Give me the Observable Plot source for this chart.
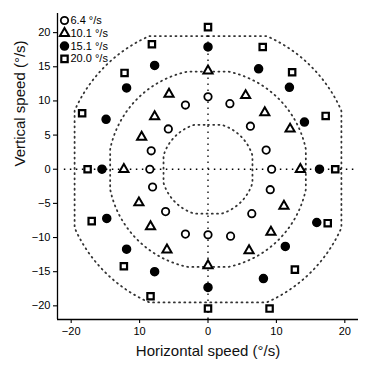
<!DOCTYPE html>
<html><head><meta charset="utf-8">
<script src="https://cdn.jsdelivr.net/npm/d3@7"></script>
<script src="https://cdn.jsdelivr.net/npm/@observablehq/plot@0.6"></script>
<style>
body{margin:0;background:#fff;}
#chart svg{font-family:"Liberation Sans",Arial,Helvetica,sans-serif;}
</style>
</head><body><div id="chart"></div>
<script>
// Legend / series labels
const speedLabels = ["6.4 °/s", "10.1 °/s", "15.1 °/s", "20.0 °/s"];
const speedSymbols = ["circle", "triangle", "circle", "square"];
const speedFills = ["white", "white", "black", "white"];

// 6.4 °/s (open circles)
const c64x = [0, 3.2, 6.2, 8.5, 9.3, 9.1, 6.4, 3.3, 0, -3.3, -6.2, -8.1, -8.5, -8.3, -5.8, -3.3];
const c64y = [10.6, 9.6, 6.3, 2.8, 0, -3.0, -6.5, -9.8, -9.6, -9.5, -6.2, -2.6, 0, 2.7, 5.9, 9.4];
// 10.1 °/s (open triangles)
const t10x = [0, 5.5, 8.3, 12.0, 13.5, 11.1, 9.2, 6.0, 0, -6.0, -8.4, -10.1, -12.3, -9.7, -7.8, -5.7];
const t10y = [14.4, 10.8, 8.3, 5.9, 0, -5.4, -9.2, -11.9, -14.1, -11.8, -8.4, -4.9, 0, 4.7, 7.7, 11.0];
// 15.1 °/s (filled circles)
const f15x = [0, 7.4, 11.9, 14.1, 16.3, 15.9, 11.3, 8.1, 0, -7.8, -11.9, -14.8, -15.5, -14.9, -11.9, -7.8];
const f15y = [17.9, 14.7, 12.0, 6.9, 0, -7.8, -11.3, -16.0, -17.3, -15.0, -11.7, -7.2, 0, 7.3, 11.9, 15.2];
// 20.0 °/s (open squares)
const s20x = [0, 8.0, 12.3, 17.2, 18.6, 17.5, 12.7, 9.0, 0, -8.4, -12.3, -17.0, -17.6, -18.4, -12.2, -8.2];
const s20y = [20.8, 17.9, 14.2, 7.8, 0, -7.9, -14.7, -20.4, -20.4, -18.6, -14.2, -7.6, 0, 8.2, 14.1, 18.3];

// Dotted reference outlines: circle radius clipped to a square half-width
const ringRadius = [6.8, 14.6, 21.3];
const ringClip = [6.5, 14.3, 19.5];

// Axis ticks
const xTicks = [-20, -10, 0, 10, 20];
const xTickLabels = ["−20", "10", "0", "10", "20"];
const yTicks = [-20, -15, -10, -5, 0, 5, 10, 15, 20];
const yTickLabels = ["−20", "−15", "−10", "−5", "0", "5", "10", "15", "20"];

const xDomain = [-22, 22];
const yDomain = [-22, 22.8];

const series = [
  {xs: c64x, ys: c64y}, {xs: t10x, ys: t10y}, {xs: f15x, ys: f15y}, {xs: s20x, ys: s20y}
].map((s, k) => s.xs.map((x, i) => ({x, y: s.ys[i], k})));

const ringPts = [];
ringRadius.forEach((r, k) => {
  const c = ringClip[k];
  for (let a = 0; a <= 720; a++) {
    const t = a / 720 * 2 * Math.PI;
    ringPts.push({ring: k, x: Math.max(-c, Math.min(c, r * Math.sin(t))), y: Math.max(-c, Math.min(c, r * Math.cos(t)))});
  }
});

const style = [
  {r: 3.7, sw: 1.8},
  {r: 3.4, sw: 2.0},
  {r: 4.0, sw: 0},
  {r: 3.6, sw: 2.2}
];

const marks = [];
marks.push(Plot.line(ringPts, {x: "x", y: "y", z: "ring", stroke: "#333", strokeWidth: 1.8, strokeDasharray: "1,4.2", curve: "linear"}));
marks.push(Plot.ruleY([0], {x1: -21, x2: 21.8, stroke: "black", strokeWidth: 1.3, strokeDasharray: "1.5,4.5"}));
marks.push(Plot.ruleX([0], {y1: -22, y2: 21.8, stroke: "black", strokeWidth: 1.3, strokeDasharray: "1.5,4.5"}));
series.forEach((data, k) => {
  marks.push(Plot.dot(data, {
    x: "x", y: "y", symbol: speedSymbols[k], r: style[k].r,
    fill: speedFills[k], stroke: "black", strokeWidth: style[k].sw || undefined
  }));
});
// legend
speedLabels.forEach((lab, k) => {
  marks.push(Plot.dot([lab], {frameAnchor: "top-left", dx: 7, dy: 7 + k * 12.8, symbol: speedSymbols[k], r: style[k].r,
    fill: speedFills[k], stroke: "black", strokeWidth: style[k].sw || undefined}));
  marks.push(Plot.text([lab], {frameAnchor: "top-left", dx: 13, dy: 7 + k * 12.8, text: d => d, textAnchor: "start", lineAnchor: "middle", fontSize: 11, fill: "black"}));
});
// axes
marks.push(Plot.axisX(xTicks, {tickSize: 4, tickPadding: 4, fontSize: 11, tickFormat: (d) => xTickLabels[xTicks.indexOf(d)], label: null, strokeWidth: 1.1}));
marks.push(Plot.axisY(yTicks, {tickSize: 4, tickPadding: 3, fontSize: 11, tickFormat: (d) => yTickLabels[yTicks.indexOf(d)], label: null, strokeWidth: 1.1}));
marks.push(Plot.ruleX([xDomain[0]], {stroke: "black", strokeWidth: 1.3}));
marks.push(Plot.ruleY([yDomain[0]], {stroke: "black", strokeWidth: 1.3}));
marks.push(Plot.text(["Horizontal speed (°/s)"], {frameAnchor: "bottom", dy: 32, text: d => d, fontSize: 15, lineAnchor: "middle", fill: "#111"}));
marks.push(Plot.text(["Vertical speed (°/s)"], {frameAnchor: "left", dx: -37, rotate: -90, text: d => d, fontSize: 15, lineAnchor: "middle", fill: "#111"}));

const chart = Plot.plot({
  width: 378, height: 370,
  marginLeft: 57, marginRight: 20, marginTop: 13, marginBottom: 51,
  x: {domain: xDomain},
  y: {domain: yDomain},
  style: {fontSize: "11px", color: "black", background: "white"},
  marks
});
document.getElementById("chart").appendChild(chart);
</script>
</body></html>
